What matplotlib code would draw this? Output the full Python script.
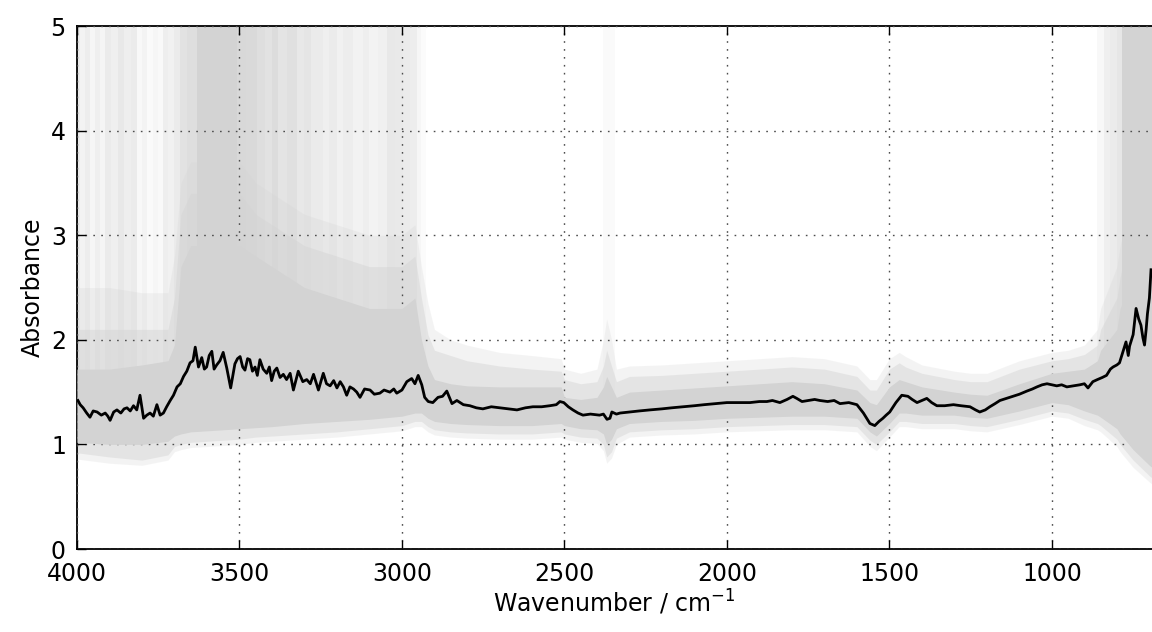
import matplotlib
matplotlib.use("Agg")
import matplotlib.pyplot as plt

# mean spectrum (wavenumber / cm-1, absorbance)
mean_wn = [
    3997, 3990, 3981, 3970, 3960, 3950, 3938, 3925, 3913, 3905,
    3898, 3887, 3877, 3865, 3855, 3846, 3836, 3826, 3816, 3806,
    3795, 3785, 3775, 3765, 3754, 3744, 3734, 3724, 3713, 3703,
    3692, 3682, 3672, 3662, 3652, 3643, 3636, 3626, 3616, 3608,
    3601, 3593, 3585, 3578, 3570, 3560, 3550, 3539, 3527, 3514,
    3506, 3498, 3490, 3483, 3475, 3468, 3460, 3452, 3445, 3437,
    3427, 3416, 3408, 3401, 3393, 3385, 3375, 3365, 3355, 3344,
    3334, 3319, 3305, 3293, 3282, 3272, 3265, 3257, 3242, 3232,
    3221, 3210, 3200, 3190, 3180, 3170, 3160, 3149, 3139, 3129,
    3115, 3098, 3085, 3068, 3055, 3037, 3025, 3016, 3000, 2985,
    2970, 2960, 2950, 2939, 2930, 2919, 2905, 2889, 2875, 2862,
    2846, 2831, 2811, 2791, 2771, 2751, 2725, 2698, 2670, 2646,
    2620, 2597, 2570, 2545, 2525, 2514, 2502, 2488, 2474, 2458,
    2443, 2420, 2392, 2380, 2369, 2360, 2354, 2340, 2329, 2300,
    2270, 2237, 2200, 2170, 2135, 2100, 2070, 2035, 2000, 1965,
    1929, 1900, 1877, 1860, 1837, 1815, 1797, 1785, 1769, 1750,
    1730, 1714, 1690, 1670, 1652, 1625, 1600, 1580, 1560, 1545,
    1532, 1520, 1510, 1499, 1480, 1462, 1443, 1430, 1415, 1400,
    1385, 1370, 1354, 1330, 1303, 1280, 1252, 1235, 1222, 1205,
    1191, 1175, 1160, 1140, 1120, 1100, 1077, 1060, 1046, 1030,
    1015, 1000, 985, 970, 954, 935, 914, 900, 889, 874,
    860, 845, 832, 820, 812, 800, 792, 780, 772, 765,
    761, 750, 741, 733, 726, 720, 715, 710, 706, 700,
    695,
]
mean_abs = [
    1.42, 1.38, 1.35, 1.30, 1.26, 1.32, 1.31, 1.28, 1.30, 1.27,
    1.23, 1.31, 1.33, 1.30, 1.34, 1.35, 1.32, 1.37, 1.33, 1.47,
    1.25, 1.28, 1.30, 1.27, 1.38, 1.28, 1.30, 1.36, 1.42, 1.47,
    1.55, 1.58, 1.65, 1.70, 1.78, 1.80, 1.93, 1.74, 1.83, 1.72,
    1.74, 1.85, 1.89, 1.72, 1.76, 1.80, 1.88, 1.73, 1.54, 1.77,
    1.82, 1.84, 1.74, 1.71, 1.82, 1.81, 1.70, 1.74, 1.66, 1.81,
    1.72, 1.68, 1.74, 1.61, 1.70, 1.73, 1.64, 1.67, 1.62, 1.68,
    1.52, 1.70, 1.60, 1.62, 1.58, 1.67, 1.60, 1.52, 1.68, 1.58,
    1.56, 1.61, 1.54, 1.60, 1.55, 1.47, 1.55, 1.53, 1.50, 1.45,
    1.53, 1.52, 1.48, 1.49, 1.52, 1.50, 1.53, 1.49, 1.52, 1.60,
    1.63, 1.58, 1.66, 1.57, 1.45, 1.41, 1.40, 1.45, 1.46, 1.51,
    1.39, 1.42, 1.38, 1.37, 1.35, 1.34, 1.36, 1.35, 1.34, 1.33,
    1.35, 1.36, 1.36, 1.37, 1.38, 1.41, 1.40, 1.36, 1.33, 1.30,
    1.28, 1.29, 1.28, 1.29, 1.24, 1.25, 1.31, 1.29, 1.30, 1.31,
    1.32, 1.33, 1.34, 1.35, 1.36, 1.37, 1.38, 1.39, 1.40, 1.40,
    1.40, 1.41, 1.41, 1.42, 1.40, 1.43, 1.46, 1.44, 1.41, 1.42,
    1.43, 1.42, 1.41, 1.42, 1.39, 1.40, 1.38, 1.30, 1.20, 1.18,
    1.22, 1.25, 1.28, 1.31, 1.40, 1.47, 1.46, 1.43, 1.40, 1.42,
    1.44, 1.40, 1.37, 1.37, 1.38, 1.37, 1.36, 1.33, 1.31, 1.33,
    1.36, 1.39, 1.42, 1.44, 1.46, 1.48, 1.51, 1.53, 1.55, 1.57,
    1.58, 1.57, 1.56, 1.57, 1.55, 1.56, 1.57, 1.58, 1.54, 1.60,
    1.62, 1.64, 1.66, 1.72, 1.74, 1.76, 1.78, 1.90, 1.98, 1.85,
    1.94, 2.05, 2.30, 2.20, 2.14, 2.02, 1.95, 2.10, 2.25, 2.40,
    2.67,
]

# spread of the individual spectra: dense core, fringe and faint haze
band_wn = [4000, 3900, 3800, 3720, 3700, 3680, 3650, 3500, 3450, 3400,
           3300, 3200, 3100, 3000, 2960, 2940, 2920, 2900, 2850, 2800,
           2700, 2600, 2510, 2500, 2450, 2400, 2380, 2370, 2355, 2340,
           2300, 2200, 2100, 2000, 1900, 1800, 1700, 1600, 1560, 1540,
           1500, 1470, 1450, 1400, 1300, 1250, 1200, 1100, 1000, 950,
           900, 860, 850, 800, 790, 750, 700, 692]
core_lo = [1.02, 1.00, 1.00, 1.03, 1.08, 1.10, 1.12, 1.15, 1.16, 1.17,
           1.20, 1.22, 1.24, 1.27, 1.30, 1.30, 1.25, 1.22, 1.20, 1.19,
           1.18, 1.18, 1.20, 1.18, 1.15, 1.14, 1.10, 1.00, 1.05, 1.15,
           1.20, 1.22, 1.23, 1.25, 1.26, 1.27, 1.27, 1.25, 1.12, 1.08,
           1.20, 1.30, 1.30, 1.28, 1.28, 1.26, 1.25, 1.32, 1.40, 1.38,
           1.32, 1.28, 1.26, 1.15, 1.10, 0.95, 0.80, 0.78]
core_hi = [1.72, 1.72, 1.76, 1.80, 1.95, 2.70, 2.90, 2.90, 2.80, 2.70,
           2.50, 2.40, 2.30, 2.30, 2.40, 2.00, 1.75, 1.62, 1.58, 1.56,
           1.55, 1.55, 1.55, 1.45, 1.43, 1.45, 1.55, 1.65, 1.55, 1.45,
           1.50, 1.52, 1.54, 1.56, 1.58, 1.60, 1.58, 1.52, 1.40, 1.38,
           1.55, 1.62, 1.60, 1.55, 1.50, 1.48, 1.47, 1.58, 1.68, 1.70,
           1.72, 1.80, 1.90, 2.10, 2.30, 2.60, 2.90, 3.00]
fringe_lo = [0.92, 0.88, 0.85, 0.90, 0.98, 1.00, 1.02, 1.05, 1.07, 1.08,
             1.10, 1.12, 1.15, 1.18, 1.22, 1.22, 1.17, 1.14, 1.12, 1.11,
             1.10, 1.10, 1.12, 1.10, 1.07, 1.06, 1.00, 0.88, 0.93, 1.06,
             1.12, 1.14, 1.15, 1.17, 1.18, 1.19, 1.19, 1.17, 1.04, 1.00,
             1.12, 1.22, 1.22, 1.20, 1.20, 1.18, 1.17, 1.24, 1.32, 1.30,
             1.24, 1.20, 1.18, 1.05, 1.00, 0.85, 0.70, 0.68]
fringe_hi = [2.10, 2.10, 2.10, 2.10, 2.40, 3.20, 3.40, 3.40, 3.20, 3.10,
             2.90, 2.80, 2.70, 2.70, 2.80, 2.40, 2.05, 1.90, 1.85, 1.80,
             1.75, 1.72, 1.70, 1.62, 1.58, 1.60, 1.75, 1.90, 1.75, 1.60,
             1.65, 1.66, 1.68, 1.70, 1.72, 1.74, 1.72, 1.65, 1.52, 1.52,
             1.72, 1.78, 1.74, 1.68, 1.62, 1.60, 1.60, 1.72, 1.80, 1.82,
             1.86, 1.95, 2.10, 2.40, 2.60, 3.20, 3.30, 3.30]
haze_lo = [0.86, 0.82, 0.80, 0.85, 0.93, 0.95, 0.97, 1.00, 1.02, 1.03,
           1.05, 1.07, 1.10, 1.13, 1.17, 1.17, 1.12, 1.09, 1.07, 1.06,
           1.05, 1.05, 1.07, 1.05, 1.02, 1.01, 0.94, 0.82, 0.87, 1.00,
           1.07, 1.09, 1.10, 1.12, 1.13, 1.14, 1.14, 1.12, 0.98, 0.94,
           1.07, 1.17, 1.17, 1.15, 1.15, 1.13, 1.12, 1.19, 1.27, 1.25,
           1.18, 1.14, 1.12, 0.98, 0.93, 0.78, 0.64, 0.62]
haze_hi = [2.50, 2.50, 2.45, 2.45, 2.80, 3.50, 3.70, 3.70, 3.50, 3.40,
           3.20, 3.10, 3.00, 3.00, 3.10, 2.70, 2.35, 2.10, 2.00, 1.95,
           1.88, 1.85, 1.82, 1.72, 1.68, 1.72, 2.00, 2.20, 2.00, 1.72,
           1.75, 1.76, 1.78, 1.80, 1.82, 1.84, 1.82, 1.75, 1.62, 1.62,
           1.82, 1.88, 1.84, 1.76, 1.70, 1.68, 1.68, 1.80, 1.88, 1.90,
           1.95, 2.10, 2.30, 2.70, 2.90, 3.40, 3.50, 3.50]

# saturated spectra shooting up to the top of the plot: (from, to, density)
sat_start = [4000, 3990, 3975, 3960, 3945, 3930, 3915, 3895, 3875, 3855,
             3835, 3815, 3800, 3785, 3765, 3750, 3735, 3720, 3700, 3683,
             3660, 3631, 3508, 3480, 3446, 3420, 3400, 3380, 3355, 3323,
             3300, 3280, 3243, 3225, 3200, 3180, 3151, 3120, 3100, 3075,
             3046, 3020, 2997, 2975, 2955, 2940, 2380, 860, 840, 820,
             800, 785]
sat_end = [3990, 3975, 3960, 3945, 3930, 3915, 3895, 3875, 3855, 3835,
           3815, 3800, 3785, 3765, 3750, 3735, 3720, 3700, 3683, 3660,
           3631, 3508, 3480, 3446, 3420, 3400, 3380, 3355, 3323, 3300,
           3280, 3243, 3225, 3200, 3180, 3151, 3120, 3100, 3075, 3046,
           3020, 2997, 2975, 2955, 2940, 2925, 2345, 840, 820, 800,
           785, 692]
sat_alpha = [0.45, 0.25, 0.40, 0.20, 0.35, 0.22, 0.45, 0.35, 0.50, 0.38,
             0.45, 0.15, 0.25, 0.10, 0.20, 0.12, 0.38, 0.30, 0.45, 0.65,
             0.75, 1.00, 0.88, 0.85, 0.75, 0.65, 0.78, 0.60, 0.70, 0.50,
             0.58, 0.45, 0.35, 0.45, 0.30, 0.40, 0.28, 0.38, 0.25, 0.33,
             0.52, 0.48, 0.45, 0.40, 0.20, 0.08, 0.10, 0.15, 0.35, 0.45,
             0.55, 1.00]

fig = plt.figure(figsize=(11.52, 6.32), dpi=100)
ax = fig.add_axes([0.0668, 0.1313, 0.9332, 0.8275])

for a, b, al in zip(sat_start, sat_end, sat_alpha):
    ax.axvspan(a, b, ymin=0.3, ymax=1.0, color='lightgray', alpha=al, lw=0, zorder=1)
ax.fill_between(band_wn, haze_lo, haze_hi, color='lightgray', alpha=0.25, lw=0, zorder=2)
ax.fill_between(band_wn, fringe_lo, fringe_hi, color='lightgray', alpha=0.45, lw=0, zorder=2)
ax.fill_between(band_wn, core_lo, core_hi, color='lightgray', lw=0, zorder=3)
ax.plot(mean_wn, mean_abs, color='black', lw=2.0, zorder=5)

ax.set_xlim(4000, 692)
ax.set_ylim(0, 5)
ax.set_xticks([4000, 3500, 3000, 2500, 2000, 1500, 1000])
ax.set_yticks([0, 1, 2, 3, 4, 5])
ax.grid(True, color='0.3', linestyle=(0, (1.2, 4.5)), lw=1, zorder=4)
ax.set_axisbelow(False)

ax.tick_params(direction='in', length=6.5, width=1, labelsize=17, top=True, right=False)
ax.tick_params(axis='x', pad=9)
ax.tick_params(axis='y', pad=8)
for side in ['left', 'bottom', 'top']:
    ax.spines[side].set_linewidth(1.3)
ax.spines['right'].set_visible(False)

ax.set_xlabel('Wavenumber / cm$^{-1}$', fontsize=17, labelpad=2)
ax.set_ylabel('Absorbance', fontsize=17)

fig.savefig('out.png', dpi=100)
